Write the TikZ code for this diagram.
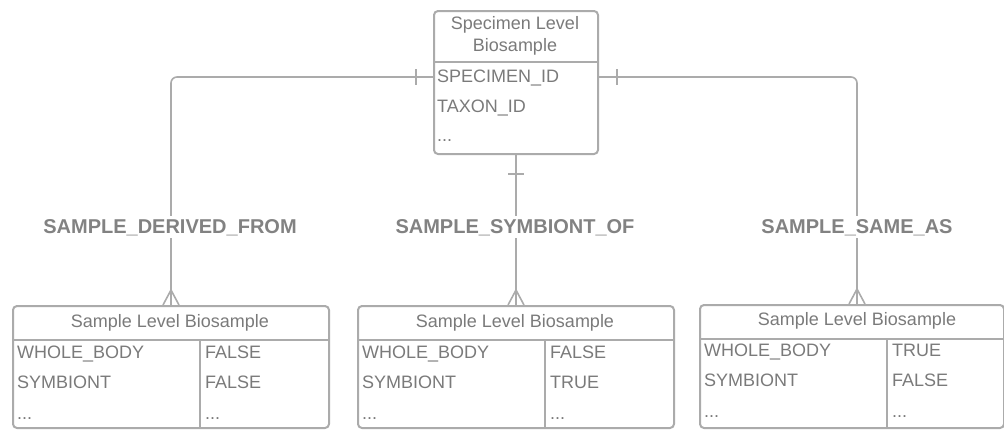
\documentclass[tikz,border=0pt]{standalone}
\usepackage{fontspec}
\setmainfont{Liberation Sans}
\usetikzlibrary{calc}
\definecolor{ln}{HTML}{ABABAB}
\definecolor{tx}{HTML}{7A7A7A}
\definecolor{lb}{HTML}{828282}
\begin{document}
\begin{tikzpicture}[x=1pt,y=-1pt,
  box/.style={draw=ln, line width=2pt, rounded corners=4pt, inner sep=0pt, anchor=north west},
  boxline/.style={draw=ln, line width=2pt},
  hd/.style={text=tx, font=\fontsize{18}{22}\selectfont, align=center, inner sep=0pt, anchor=base},
  fld/.style={text=tx, font=\fontsize{18}{22}\selectfont, anchor=base west, inner sep=0pt},
  rel/.style={text=lb, font=\bfseries\fontsize{20}{24}\selectfont, fill=white, inner sep=3pt, anchor=base},
  conn/.style={draw=ln, line width=1.6pt, line join=round}]
\useasboundingbox (0,0) rectangle (1004,429);

% top entity
\node[box, minimum width=164pt, minimum height=143pt] (spec) at (433,10) {};
\node[hd] (spech) at (515,51.5) {Specimen Level\\Biosample};
\draw[boxline] ($(spec.north west)+(0,52)$) -- ($(spec.north east)+(0,52)$);
\node[fld] (s1) at (437,82.5) {SPECIMEN\_ID};
\node[fld] (s2) at (437,112.5) {TAXON\_ID};
\node[fld] (s3) at (437,141.5) {...};

% bottom entities
\node[box, minimum width=316pt, minimum height=122pt] (b1) at (12,305) {};
\node[hd] (b1h) at (170,327) {Sample Level Biosample};
\draw[boxline] ($(b1.north west)+(0,35)$) -- ($(b1.north east)+(0,35)$);
\draw[boxline] ($(b1.north west)+(188,35)$) -- ($(b1.south west)+(188,0)$);
\node[fld] (b1a) at (17,358.5) {WHOLE\_BODY};
\node[fld] (b1b) at (17,388.5) {SYMBIONT};
\node[fld] (b1c) at (17,419.5) {...};
\node[fld] (b1d) at (205,358.5) {FALSE};
\node[fld] (b1e) at (205,388.5) {FALSE};
\node[fld] (b1f) at (205,419.5) {...};

\node[box, minimum width=316pt, minimum height=122pt] (b2) at (357,305) {};
\node[hd] (b2h) at (515,327) {Sample Level Biosample};
\draw[boxline] ($(b2.north west)+(0,35)$) -- ($(b2.north east)+(0,35)$);
\draw[boxline] ($(b2.north west)+(188,35)$) -- ($(b2.south west)+(188,0)$);
\node[fld] (b2a) at (362,358.5) {WHOLE\_BODY};
\node[fld] (b2b) at (362,388.5) {SYMBIONT};
\node[fld] (b2c) at (362,419.5) {...};
\node[fld] (b2d) at (550,358.5) {FALSE};
\node[fld] (b2e) at (550,388.5) {TRUE};
\node[fld] (b2f) at (550,419.5) {...};

\node[box, minimum width=304pt, minimum height=123pt] (b3) at (699,304) {};
\node[hd] (b3h) at (857,325.5) {Sample Level Biosample};
\draw[boxline] ($(b3.north west)+(0,35)$) -- ($(b3.north east)+(0,35)$);
\draw[boxline] ($(b3.north west)+(188,35)$) -- ($(b3.south west)+(188,0)$);
\node[fld] (b3a) at (704,356.5) {WHOLE\_BODY};
\node[fld] (b3b) at (704,386.5) {SYMBIONT};
\node[fld] (b3c) at (704,417.5) {...};
\node[fld] (b3d) at (892,356.5) {TRUE};
\node[fld] (b3e) at (892,386.5) {FALSE};
\node[fld] (b3f) at (892,417.5) {...};

% connectors
\coordinate (lvl) at (0,77);
\coordinate (t3) at (b3h.north |- b3.north);
\draw[conn, rounded corners=6pt] (spec.west |- lvl) -- (b1.north |- lvl) -- (b1.north);
\draw[conn] (spec.south) -- (b2.north);
\draw[conn, rounded corners=6pt] (spec.east |- lvl) -- (t3 |- lvl) -- (t3);

% one-ticks
\draw[conn] ($(spec.west |- lvl)+(-17,-8)$) -- ++(0,16);
\draw[conn] ($(spec.east |- lvl)+(18,-8)$) -- ++(0,16);
\draw[conn] ($(spec.south)+(-8,19)$) -- ++(16,0);

% crow's feet
\draw[conn] ($(b1.north)+(-8,0)$) -- ($(b1.north)+(0,-15)$) -- ($(b1.north)+(8,0)$);
\draw[conn] ($(b2.north)+(-8,0)$) -- ($(b2.north)+(0,-15)$) -- ($(b2.north)+(8,0)$);
\draw[conn] ($(t3)+(-8,0)$) -- ($(t3)+(0,-15)$) -- ($(t3)+(8,0)$);

% relation labels
\node[rel] (l1) at (170,233) {SAMPLE\_DERIVED\_FROM};
\node[rel] (l2) at (515,233) {SAMPLE\_SYMBIONT\_OF};
\node[rel] (l3) at (857,233) {SAMPLE\_SAME\_AS};
\end{tikzpicture}
\end{document}
